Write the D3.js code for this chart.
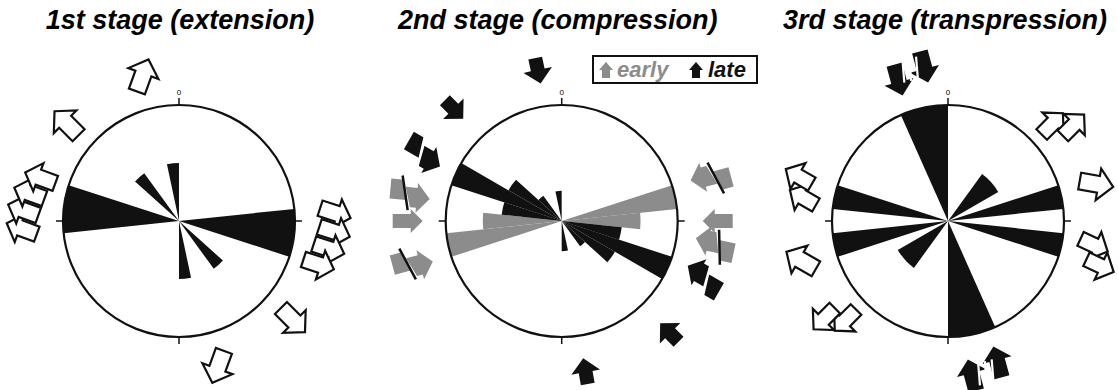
<!DOCTYPE html>
<html>
<head>
<meta charset="utf-8">
<script src="https://cdn.jsdelivr.net/npm/d3@7"></script>
<style>
  body { margin: 0; background: #fff; }
  svg { display: block; }
</style>
</head>
<body>
<svg id="chart" width="1118" height="390"></svg>
<script>
// --- data ---
var titles = ['1st stage (extension)', '2nd stage (compression)', '3rd stage (transpression)'];
var legendLabels = ['early', 'late'];

// petals: [from azimuth, to azimuth, relative length]; drawn axially (mirrored +180)
var petals1 = [[84, 108, 1.0], [312, 324, 0.51], [348, 360, 0.5]];
var petals2Early = [[72, 84, 1.0], [84, 96, 0.68], [96, 108, 0.34]];
var petals2Late = [[96, 108, 0.52], [108, 120, 1.0], [120, 132, 0.53], [132, 144, 0.27], [168, 180, 0.26]];
var petals3 = [[336, 360, 1.0], [72, 84, 1.0], [96, 108, 1.0], [36, 60, 0.5]];

// arrows: [position azimuth, distance from centre, pointing azimuth, kind]
var arrows1 = [[346, 150, 20, 'open'], [311, 149, 315, 'open'], [277, 151, 290, 'stack'],
               [97, 151, 108, 'stack'], [131, 151, 135, 'open'], [165, 151, 200, 'open']];
var arrows2 = [[351, 152, 168, 'black'], [316, 155, 135, 'black'], [296, 153, 120, 'black2'],
               [280, 154, 95, 'gray2'], [270, 154, 90, 'gray'], [254, 155, 75, 'gray2'],
               [74, 155, 255, 'gray2'], [90, 156, 270, 'gray'], [99, 155, 282, 'gray2'],
               [112, 153, 300, 'black2'], [136, 155, 315, 'black'], [171, 152, 350, 'black']];
var arrows3 = [[346, 152, 165, 'blackPair'], [166, 152, 345, 'blackPair'], [50, 150, 45, 'open2'],
               [76, 153, 100, 'open'], [103, 153, 115, 'open2'], [283, 151, 300, 'open2'],
               [255, 152, 300, 'open'], [229, 150, 225, 'open2']];

// --- layout ---
var centers = [[179, 221], [561.7, 221], [948, 221]];
var R = 116;
var BLACK = '#111', GRAY = '#8c8c8c';
var FONT = 'Liberation Sans, Arial, sans-serif';

var svg = d3.select('#chart');
var r = d3.scaleLinear().domain([0, 1]).range([0, R]);
var rad = d => d * Math.PI / 180;
var arc = d3.arc().innerRadius(0);

function arrowPts(L, H, S, HL) {
  return [[0, -L / 2], [H / 2, -L / 2 + HL], [S / 2, -L / 2 + HL], [S / 2, L / 2],
          [-S / 2, L / 2], [-S / 2, -L / 2 + HL], [-H / 2, -L / 2 + HL]];
}
var line = d3.line();

function poly(g, pts, fill, stroke, sw) {
  g.append('path').attr('d', line(pts) + 'Z')
    .attr('fill', fill).attr('stroke', stroke || 'none').attr('stroke-width', sw || 0)
    .attr('stroke-linejoin', 'miter');
}

function shift(pts, dx, dy) { return pts.map(p => [p[0] + dx, p[1] + dy]); }

function drawArrow(g, kind) {
  if (kind === 'open') {
    poly(g, arrowPts(34, 32, 17, 15), '#fff', BLACK, 2.2);
  } else if (kind === 'open2') {
    poly(g, shift(arrowPts(30, 30, 15, 14), -8, 7), '#fff', BLACK, 2.2);
    poly(g, shift(arrowPts(30, 30, 15, 14), 8, -7), '#fff', BLACK, 2.2);
  } else if (kind === 'stack') {
    [-27, -9, 9, 27].forEach((o, i) => {
      poly(g, shift(arrowPts(32, 30, 16, 14), o, [2, -3, -3, 2][i]), '#fff', BLACK, 2.2);
    });
  } else if (kind === 'black') {
    poly(g, arrowPts(26, 29, 14, 14), BLACK);
  } else if (kind === 'gray') {
    poly(g, arrowPts(30, 24, 14, 12), GRAY);
  } else if (kind === 'black2' || kind === 'gray2') {
    var col = kind === 'black2' ? BLACK : GRAY;
    var L = 40, H = 30, S = 20, HL = 13;
    var head = [[0, -L / 2], [H / 2, -L / 2 + HL], [S / 2, -L / 2 + HL], [S / 2, -1], [-S / 2, 5], [-S / 2, -L / 2 + HL], [-H / 2, -L / 2 + HL]];
    var tail = [[S / 2, 3], [S / 2, L / 2], [-S / 2, L / 2], [-S / 2, 9]];
    poly(g, shift(head, 3, 0), col);
    poly(g, shift(tail, -4, 0), col);
    if (kind === 'gray2') {
      g.append('line').attr('x1', -S / 2 - 8).attr('y1', 9).attr('x2', S / 2 + 6).attr('y2', 1)
        .attr('stroke', BLACK).attr('stroke-width', 2.5);
    } else {
      g.append('line').attr('x1', -S / 2 - 6).attr('y1', 7).attr('x2', S / 2 + 6).attr('y2', -1)
        .attr('stroke', '#fff').attr('stroke-width', 2);
    }
  } else if (kind === 'blackPair') {
    poly(g, shift(arrowPts(32, 30, 16, 14), -14, 3), BLACK);
    poly(g, shift(arrowPts(32, 30, 16, 14), 14, -3), BLACK);
    [-7, 0, 7].forEach(o => {
      g.append('line').attr('x1', o - 2).attr('y1', 15).attr('x2', o + 2).attr('y2', -7)
        .attr('stroke', '#fff').attr('stroke-width', 2.2);
    });
  }
}

function drawRose(g, petals, color) {
  var both = petals.flatMap(p => [p, [p[0] + 180, p[1] + 180, p[2]]]);
  g.append('g').selectAll('path').data(both).join('path')
    .attr('d', d => arc({ outerRadius: r(d[2]), startAngle: rad(d[0]), endAngle: rad(d[1]) }))
    .attr('fill', color);
}

function drawFrame(g) {
  g.append('circle').attr('r', R).attr('fill', 'none').attr('stroke', BLACK).attr('stroke-width', 2.2);
  [0, 90, 180, 270].forEach(a => {
    g.append('line')
      .attr('x1', R * Math.sin(rad(a))).attr('y1', -R * Math.cos(rad(a)))
      .attr('x2', (R + 7) * Math.sin(rad(a))).attr('y2', -(R + 7) * Math.cos(rad(a)))
      .attr('stroke', BLACK).attr('stroke-width', 1.5);
  });
  g.append('text').attr('x', 0).attr('y', -R - 10).attr('text-anchor', 'middle')
    .style('font-family', FONT).style('font-size', '8px').text('0');
}

function drawArrows(g, list) {
  list.forEach(a => {
    var x = a[1] * Math.sin(rad(a[0])), y = -a[1] * Math.cos(rad(a[0]));
    var ag = g.append('g').attr('transform', 'translate(' + x + ',' + y + ') rotate(' + a[2] + ')');
    drawArrow(ag, a[3]);
  });
}

var panels = [
  { roses: [[petals1, BLACK]], arrows: arrows1 },
  { roses: [[petals2Early, GRAY], [petals2Late, BLACK]], arrows: arrows2 },
  { roses: [[petals3, BLACK]], arrows: arrows3 }
];

panels.forEach((p, i) => {
  var g = svg.append('g').attr('transform', 'translate(' + centers[i][0] + ',' + centers[i][1] + ')');
  p.roses.forEach(ro => drawRose(g, ro[0], ro[1]));
  drawFrame(g);
  drawArrows(g, p.arrows);
  svg.append('text').attr('x', centers[i][0] + [1, -4, -3][i]).attr('y', 29)
    .attr('text-anchor', 'middle')
    .style('font-family', FONT)
    .style('font-size', '27px').style('font-weight', 'bold').style('font-style', 'italic')
    .text(titles[i]);
});

// legend
var lg = svg.append('g').attr('transform', 'translate(593,56)');
lg.append('rect').attr('width', 164).attr('height', 27).attr('fill', '#fff')
  .attr('stroke', BLACK).attr('stroke-width', 2);
var la = lg.append('g').attr('transform', 'translate(13,14)');
poly(la, arrowPts(16, 14, 8, 8), GRAY);
var lb = lg.append('g').attr('transform', 'translate(103,14)');
poly(lb, arrowPts(16, 14, 8, 8), BLACK);
lg.append('text').attr('x', 24).attr('y', 21).attr('fill', GRAY)
  .style('font-family', FONT).style('font-size', '22px')
  .style('font-weight', 'bold').style('font-style', 'italic').text(legendLabels[0]);
lg.append('text').attr('x', 115).attr('y', 21).attr('fill', BLACK)
  .style('font-family', FONT).style('font-size', '22px')
  .style('font-weight', 'bold').style('font-style', 'italic').text(legendLabels[1]);
</script>
</body>
</html>
